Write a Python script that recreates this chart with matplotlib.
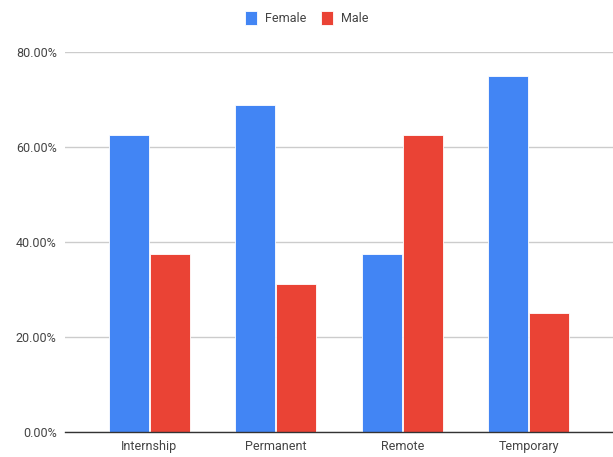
import numpy as np
import matplotlib
matplotlib.use('Agg')
import matplotlib.pyplot as plt
from matplotlib.ticker import FuncFormatter

plt.rcParams['font.family'] = ['Roboto', 'DejaVu Sans']

# Data (share of each job type, %)
categories = ['Internship', 'Permanent', 'Remote', 'Temporary']
female = [62.5, 68.75, 37.5, 75.0]
male = [37.5, 31.25, 62.5, 25.0]

blue = '#4285F4'
red = '#EA4335'
text_col = '#444444'

fig = plt.figure(figsize=(6.13, 4.57), dpi=100)
ax = fig.add_axes([65 / 613, 25 / 457, 548 / 613, 380 / 457])

x = np.arange(len(categories))
w = 0.315
ax.bar(x - 0.163, female, w, color=blue, edgecolor='white', linewidth=0.6, label='Female', zorder=3)
ax.bar(x + 0.163, male, w, color=red, edgecolor='white', linewidth=0.6, label='Male', zorder=3)

ax.set_ylim(0, 80)
ax.set_xlim(-0.667, 3.667)
ax.set_yticks([0, 20, 40, 60, 80])
ax.yaxis.set_major_formatter(FuncFormatter(lambda v, p: f'{v:.2f}%'))
ax.set_xticks(x)
ax.set_xticklabels(categories)
ax.grid(axis='y', color='#cccccc', linewidth=1, zorder=0)
ax.tick_params(length=0, labelsize=9, colors=text_col, pad=6)
for s in ['top', 'right', 'left']:
    ax.spines[s].set_visible(False)
ax.spines['bottom'].set_color('#333333')
ax.spines['bottom'].set_linewidth(1)
ax.spines['bottom'].set_zorder(4)

fig.legend(loc='upper center', bbox_to_anchor=(0.5, 1.0), ncol=2, frameon=False,
           fontsize=9, handlelength=1.0, handleheight=1.3, columnspacing=1.2,
           handletextpad=0.6, labelcolor=text_col)

fig.savefig('out.png', dpi=100)
